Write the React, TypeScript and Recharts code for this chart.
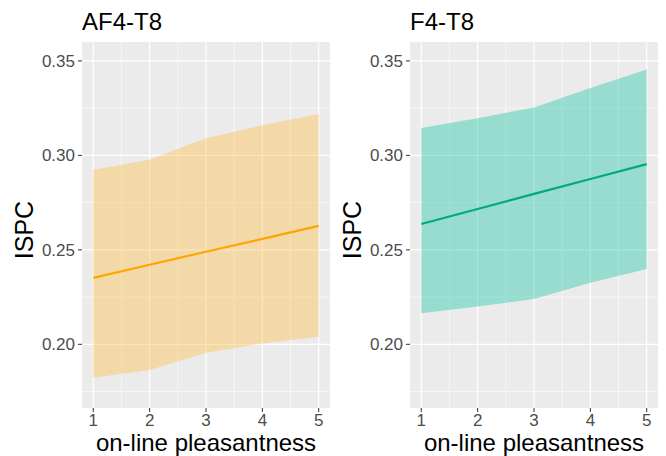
import React from 'react';
import { ComposedChart, Area, Line, XAxis, YAxis, CartesianGrid } from 'recharts';

const pleasantness = [1, 2, 3, 4, 5];
const xTicks = [1, 2, 3, 4, 5];
const xMinor = [1.5, 2.5, 3.5, 4.5];
const yTicks = [0.2, 0.25, 0.3, 0.35];
const yMinor = [0.175, 0.225, 0.275, 0.325];

const af4Fit = [0.2352, 0.2421, 0.249, 0.2558, 0.2627];
const af4Lower = [0.1823, 0.1864, 0.1956, 0.2005, 0.204];
const af4Upper = [0.2924, 0.2977, 0.309, 0.316, 0.3219];

const f4Fit = [0.2637, 0.2716, 0.2796, 0.2875, 0.2954];
const f4Lower = [0.2164, 0.22, 0.224, 0.2326, 0.2399];
const f4Upper = [0.3145, 0.3197, 0.3254, 0.3356, 0.3454];

const FONT = '"Liberation Sans", Arial, Helvetica, sans-serif';
const tickStyle = { fill: '#4d4d4d', fontSize: 17, fontFamily: FONT };

type PanelProps = {
  title: string;
  fit: number[];
  lower: number[];
  upper: number[];
  line: string;
  ribbon: string;
  left: number;
};

const Panel: React.FC<PanelProps> = ({ title, fit, lower, upper, line, ribbon, left }) => {
  const data = pleasantness.map((x, i) => ({ x, fit: fit[i], band: [lower[i], upper[i]] }));
  return (
    <div style={{ position: 'absolute', left, top: 0, width: 333, height: 456 }}>
      <ComposedChart width={333} height={456} data={data} margin={{ top: 42, right: 3, bottom: 0, left: 0 }}>
        <CartesianGrid fill="#ebebeb" stroke="#ffffff" strokeWidth={1.2} horizontalValues={yTicks} verticalValues={xTicks} />
        <CartesianGrid fill="none" stroke="#ffffff" strokeWidth={0.6} horizontalValues={yMinor} verticalValues={xMinor} />
        <XAxis
          dataKey="x"
          type="number"
          domain={[0.8, 5.2]}
          ticks={xTicks}
          height={48}
          axisLine={false}
          tickSize={4}
          tickMargin={2}
          tickLine={{ stroke: '#333333' }}
          tick={tickStyle}
        />
        <YAxis
          type="number"
          domain={[0.1663, 0.36]}
          allowDataOverflow
          ticks={yTicks}
          width={82}
          axisLine={false}
          tickSize={4}
          tickMargin={3}
          tickLine={{ stroke: '#333333' }}
          tick={tickStyle}
          tickFormatter={(v: number) => v.toFixed(2)}
        />
        <Area dataKey="band" type="linear" stroke="none" fill={ribbon} fillOpacity={0.4} isAnimationActive={false} />
        <Line dataKey="fit" type="linear" stroke={line} strokeWidth={2.2} dot={false} isAnimationActive={false} />
      </ComposedChart>
      <div style={{ position: 'absolute', left: 82, top: 8, fontSize: 24, fontFamily: FONT, color: '#000' }}>{title}</div>
      <div
        style={{
          position: 'absolute',
          left: 56,
          width: 300,
          top: 431,
          lineHeight: 1,
          textAlign: 'center',
          fontSize: 24,
          fontFamily: FONT,
          color: '#000',
          whiteSpace: 'nowrap',
        }}
      >
        on-line pleasantness
      </div>
      <div
        style={{
          position: 'absolute',
          left: 24,
          top: 230,
          fontSize: 25,
          fontFamily: FONT,
          color: '#000',
          transform: 'translate(-50%, -50%) rotate(-90deg)',
          whiteSpace: 'nowrap',
        }}
      >
        ISPC
      </div>
    </div>
  );
};

export default function App() {
  return (
    <div style={{ position: 'absolute', left: 0, top: 0, width: 666, height: 456, background: '#ffffff' }}>
      <Panel title="AF4-T8" fit={af4Fit} lower={af4Lower} upper={af4Upper} line="#ffa500" ribbon="#ffbe43" left={0} />
      <Panel title="F4-T8" fit={f4Fit} lower={f4Lower} upper={f4Upper} line="#00a884" ribbon="#1bc5a5" left={328} />
    </div>
  );
}
